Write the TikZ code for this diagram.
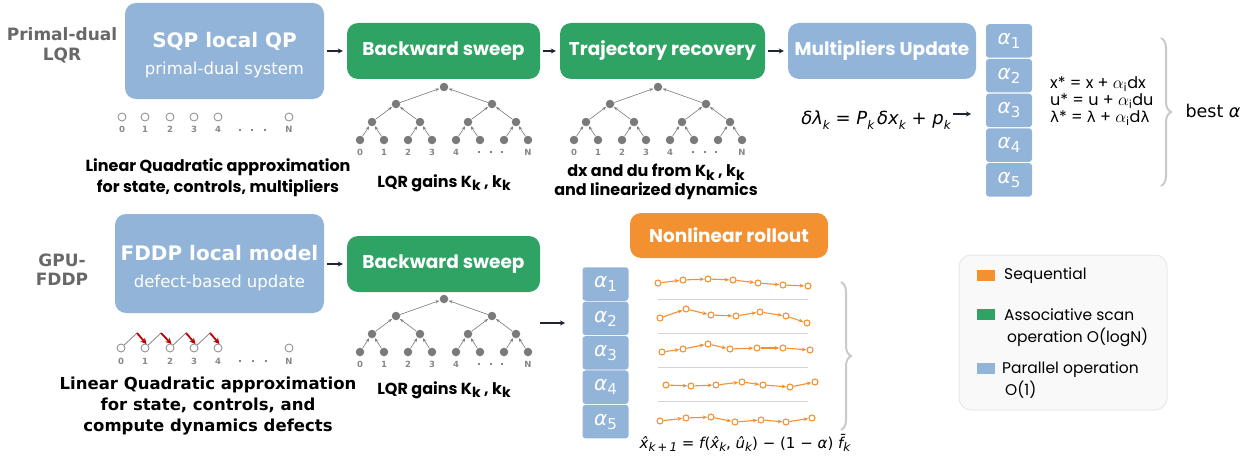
\documentclass[tikz,border=0pt]{standalone}
\usepackage{fontspec}
\setmainfont{DejaVu Sans}
\newfontfamily\gothic{Poppins}
\usetikzlibrary{arrows.meta,decorations.pathreplacing,calc}
\definecolor{blu}{HTML}{92B4D8}
\definecolor{grn}{HTML}{2EA363}
\definecolor{org}{HTML}{F39131}
\definecolor{tgray}{HTML}{7A7A7A}
\definecolor{lgray}{HTML}{C9CAD0}
\definecolor{navy}{HTML}{1F2433}
\definecolor{dred}{HTML}{C00000}
\newcommand\fs[1]{\fontsize{#1}{#1}\selectfont}
\newcommand\lsub[1]{\raisebox{-0.25em}{\fs{12}#1}}
\newcommand\gsub[1]{\raisebox{-0.22em}{\fs{14}#1}}
\newcommand\al[1]{{\fs{20}\itshape α}\raisebox{-4pt}{\fs{15}#1}}
\tikzset{
  box/.style={rounded corners=11pt, text=white, inner sep=0pt, align=center},
  bluebox/.style={box, fill=blu},
  grnbox/.style={box, fill=grn, font=\gothic\bfseries\fs{18.5}},
  flow/.style={navy, line width=1.2pt, -{Stealth[length=5pt,width=5pt]}, shorten <=3pt, shorten >=4pt},
  tdot/.style={circle, fill=tgray, inner sep=0pt, minimum size=8.5pt},
  tarr/.style={tgray, line width=0.6pt, -{Stealth[length=4pt,width=3pt]}, shorten >=0.5pt},
  odot/.style={circle, draw=tgray!80, line width=0.9pt, fill=white, inner sep=0pt, minimum size=8pt},
  idx/.style={font=\bfseries\fs{8.5}, text=tgray!90, inner sep=0pt},
  edot/.style={rectangle, fill=tgray!90, inner sep=0pt, minimum size=2.6pt},
  acell/.style={fill=blu, rounded corners=3pt, minimum width=46pt, minimum height=33.5pt, inner sep=0pt, text=white},
  rdot/.style={circle, draw=org, fill=white, line width=1.1pt, inner sep=0pt, minimum size=6pt},
  rarr/.style={org, line width=1.1pt, -{Stealth[length=4.5pt,width=4pt]}, shorten >=0.3pt},
  sepline/.style={lgray!80, line width=1pt},
  brc/.style={lgray, line width=2pt, decorate, decoration={brace, amplitude=10pt}},
  lab/.style={font=\gothic\bfseries\fs{16}, align=center, inner sep=0pt},
  side/.style={font=\bfseries\fontsize{17}{20}\selectfont, text=tgray!85!black, align=center},
  eqn/.style={font=\gothic\fs{16}, anchor=west, inner sep=0pt},
  legt/.style={font=\gothic\fontsize{15.5}{22}\selectfont, anchor=north west, inner sep=0pt, align=left},
}
\newcommand\lqrtree[3]{%
  \node[tdot] (#1r) at (#2,#3) {};
  \node[tdot] (#1a1) at ({#2-48},{#3+17}) {};
  \node[tdot] (#1a2) at ({#2+48},{#3+17}) {};
  \foreach \i/\dx in {1/-72,2/-24,3/24,4/72} \node[tdot] (#1b\i) at ({#2+\dx},{#3+35}) {};
  \foreach \i/\dx in {1/-84,2/-60,3/-36,4/-12,5/12,6/36,7/60,8/84} \node[tdot] (#1c\i) at ({#2+\dx},{#3+53}) {};
  \foreach \c/\p in {a1/r,a2/r,b1/a1,b2/a1,b3/a2,b4/a2,c1/b1,c2/b1,c3/b2,c4/b2,c5/b3,c6/b3,c7/b4,c8/b4} \draw[tarr] (#1\c) -- (#1\p);
  \foreach \i/\t in {1/0,2/1,3/2,4/3,5/4,8/N} \node[idx] (#1l\i) at ($(#1c\i)+(0,12)$) {\t};
  \foreach \i/\dx in {1/35,2/47,3/58} \node[edot] (#1e\i) at ({#2+\dx},{#3+65}) {};
}
\newcommand\rrow[8]{%
  \node[rdot] (#1a) at (#2) {};
  \node[rdot] (#1b) at (#3) {};
  \node[rdot] (#1c) at (#4) {};
  \node[rdot] (#1d) at (#5) {};
  \node[rdot] (#1e) at (#6) {};
  \node[rdot] (#1f) at (#7) {};
  \node[rdot] (#1g) at (#8) {};
  \foreach \u/\v in {a/b,b/c,c/d,d/e,e/f,f/g} \draw[rarr] (#1\u) -- (#1\v);
}
\begin{document}
\begin{tikzpicture}[x=1pt,y=-1pt]
\useasboundingbox (0,0) rectangle (1256,460);
% ---------- top row ----------
\node[side] (plqr) at (62,45) {Primal-dual\\LQR};
\node[bluebox, minimum width=199pt, minimum height=96pt] (sqp) at (224.5,51) {};
\node[font=\bfseries\fs{20}, text=white] (sqpt) at (224.5,41) {SQP local QP};
\node[font=\fs{16.5}, text=white] (sqps) at (224.5,70) {primal-dual system};
\node[grnbox, minimum width=193pt, minimum height=56pt] (bs1) at (443.5,51) {Backward sweep};
\node[grnbox, minimum width=205pt, minimum height=56pt] (tr) at (662.5,51) {Trajectory recovery};
\node[bluebox, font=\gothic\bfseries\fs{18.5}, minimum width=188pt, minimum height=56pt] (mu) at (882,51) {Multipliers Update};
\draw[flow] (sqp) -- (bs1);
\draw[flow] (bs1) -- (tr);
\draw[flow] (tr) -- (mu);
% dots row top
\foreach \n/\x in {0/122,1/145,2/170,3/194,4/218,N/289} {
  \node[odot] (p\n) at (\x,117) {};
  \node[idx] (pl\n) at (\x,129.5) {\n};
}
\foreach \i/\x in {1/240,2/252,3/265} \node[edot] (pe\i) at (\x,130) {};
\node[lab] (lq1) at (218,178) {Linear Quadratic approximation\\[3pt]for state, controls, multipliers};
% trees top
\lqrtree{ta}{444}{87}
\lqrtree{tb}{658}{87}
\node[lab] (lqr1) at (444,183) {LQR gains K\gsub{k} , k\gsub{k}};
\node[lab] (dxdu) at (656,182) {dx and du from K\gsub{k} , k\gsub{k}\\[1pt]and linearized dynamics};
% alpha column top
\foreach \i in {1,...,5} \node[acell] (ta\i) at (1009,{41+(\i-1)*34.7}) {\al{\i}};
\node[font=\fs{18}] (dl) at (876,120) {\itshape δλ\lsub{k} \upshape= \itshape P\lsub{k}\,δx\lsub{k} \upshape+ \itshape p\lsub{k}};
\coordinate (dls) at (953,114);
\coordinate (dle) at (971,114);
\draw[navy, line width=1.2pt, -{Stealth[length=5pt,width=5pt]}] (dls) -- (dle);
\node[eqn] (ex) at (1050,84) {x* = x + $\alpha_{\mathrm{i}}$dx};
\node[eqn] (eu) at (1050,101) {u* = u + $\alpha_{\mathrm{i}}$du};
\node[eqn] (el) at (1050,118) {{\rmfamily\fs{15}λ}* = {\rmfamily\fs{15}λ} + $\alpha_{\mathrm{i}}$d{\rmfamily\fs{15}λ}};
\coordinate (b1t) at (1161,38);
\coordinate (b1b) at (1161,186);
\draw[brc] (b1t) -- (b1b);
\node[font=\fs{17.5}] (best) at (1213,111) {best \textit{α}};
% ---------- bottom row ----------
\node[side, font=\bfseries\fontsize{17}{19}\selectfont] (gf) at (62,270) {GPU-\\FDDP};
\node[bluebox, minimum width=209pt, minimum height=99pt] (fd) at (219.5,263.5) {};
\node[font=\bfseries\fs{20}, text=white] (fdt) at (219.5,253) {FDDP local model};
\node[font=\fs{16.5}, text=white] (fds) at (219.5,283) {defect-based update};
\node[grnbox, minimum width=193pt, minimum height=56pt] (bs2) at (443.5,264) {Backward sweep};
\draw[flow] (fd.east |- bs2) -- (bs2);
\foreach \n/\x in {0/121,1/145,2/170,3/194,4/218,N/289} {
  \node[odot] (d\n) at (\x,348) {};
  \node[idx] (dl\n) at (\x,361) {\n};
}
\foreach \i/\x in {1/240,2/253,3/266} \node[edot] (de\i) at (\x,361) {};
\foreach \a/\b/\x in {0/1/137,1/2/161,2/3/186,3/4/210} {
  \coordinate (k\a) at (\x,333);
  \coordinate (t\a) at ($(d\b.north)+(1.5,0.5)$);
  \draw[tgray, line width=0.7pt] (d\a) -- (k\a);
  \draw[dred, line width=1.8pt, -{Stealth[length=6pt,width=6pt]}] (k\a) -- (t\a);
}
\node[font=\bfseries\fontsize{16.5}{21}\selectfont, align=center] (lq2) at (208,406) {Linear Quadratic approximation\\for state, controls, and\\compute dynamics defects};
\lqrtree{tc}{444}{299}
\node[lab] (lqr2) at (444,390) {LQR gains K\gsub{k} , k\gsub{k}};
\coordinate (bas) at (540,323);
\coordinate (bae) at (565,323);
\draw[navy, line width=1.2pt, -{Stealth[length=5pt,width=5pt]}] (bas) -- (bae);
\foreach \i in {1,...,5} \node[acell] (ba\i) at (605.5,{284+(\i-1)*34.4}) {\al{\i}};
\node[box, fill=org, font=\gothic\bfseries\fs{18.5}, minimum width=198pt, minimum height=45pt] (nr) at (729,235.5) {Nonlinear rollout};
\foreach \i/\y in {1/299,2/333,3/367,4/401} {
  \coordinate (sl\i) at (658,\y);
  \coordinate (sr\i) at (808,\y);
  \draw[sepline] (sl\i) -- (sr\i);
}
\rrow{ra}{658,283}{683,280}{708,279}{733,280}{758,283}{783,285}{808,286}
\rrow{rb}{660,318}{686,309}{711,315}{736,316}{760,312}{786,316}{807,323}
\rrow{rc}{662,352}{683,349}{708,344}{730,349}{757,348}{783,348}{810,350}
\rrow{rd}{666,385}{691,386}{716,385}{742,382}{763,385}{790,387}{815,382}
\rrow{re}{660,421}{686,418}{711,417}{735,422}{761,420}{786,422}{812,418}
\coordinate (b2t) at (841,282);
\coordinate (b2b) at (841,430);
\draw[brc] (b2t) -- (b2b);
\node[font=\fs{15}] (xf) at (745,443) {\itshape \^{x}\lsub{k\,+\,1} \upshape= \itshape f\upshape(\itshape\^{x}\lsub{k}\upshape, \itshape\^{u}\lsub{k}\upshape) − (1 − \itshape α\upshape) \itshape\={f}\lsub{k}};
% legend
\node[draw=gray!18, fill=gray!5, rounded corners=12pt, minimum width=208pt, minimum height=155pt, line width=1pt] (leg) at (1063,332.5) {};
\node[fill=org, minimum width=18pt, minimum height=11pt, inner sep=0pt] (lg1) at (986,275.5) {};
\node[fill=grn, minimum width=18pt, minimum height=11pt, inner sep=0pt] (lg2) at (986,314.5) {};
\node[fill=blu, minimum width=18pt, minimum height=11pt, inner sep=0pt] (lg3) at (986,368.5) {};
\node[legt, anchor=west] (lt1) at (1004,276) {Sequential};
\node[legt] (lt2) at (1004,309) {Associative scan\\\hspace{3pt}operation O(logN)};
\node[legt] (lt3) at (1002,362) {Parallel operation\\\hspace{3pt}O(1)};
\end{tikzpicture}
\end{document}
